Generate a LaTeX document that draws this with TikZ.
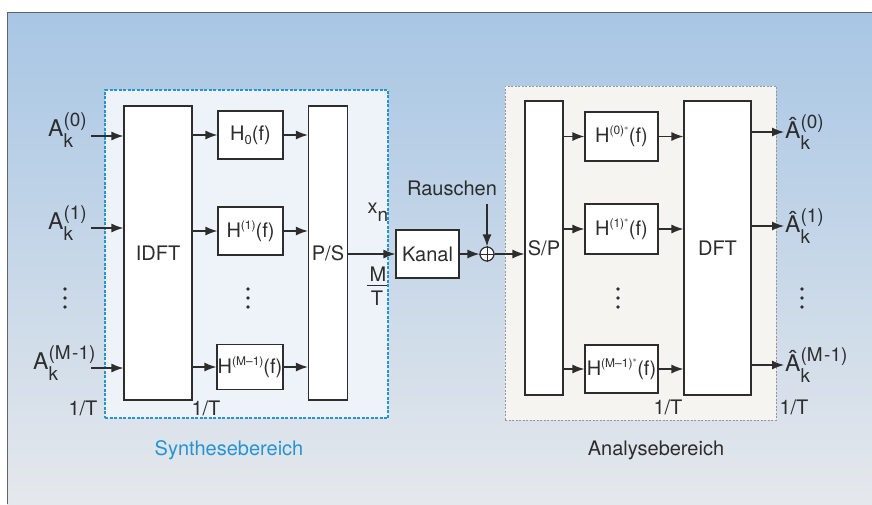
\documentclass[tikz,border=0pt]{standalone}
\usepackage{amsmath}
\usepackage{fontspec}
\setmainfont{TeX Gyre Heros}
\usetikzlibrary{arrows.meta,positioning,shapes,calc}
\definecolor{skyblue}{RGB}{168,198,228}
\definecolor{midblue}{RGB}{200,218,236}
\definecolor{paleblue}{RGB}{229,232,236}
\definecolor{synthblue}{RGB}{38,148,208}
\definecolor{synthfill}{RGB}{237,243,248}
\definecolor{anafill}{RGB}{245,244,240}
\definecolor{anagray}{RGB}{150,150,150}
\definecolor{framegray}{RGB}{100,100,100}
\definecolor{darkline}{RGB}{45,45,45}

% letter with stacked upper and lower index
\newcommand{\stackidx}[3]{{\fontsize{23pt}{26pt}\selectfont #1}{\fontsize{19pt}{21pt}\selectfont\raisebox{-11pt}{\begin{tabular}[b]{@{}l@{}}#2\\#3\end{tabular}}}}
\newcommand{\hsup}[1]{\raisebox{8pt}{\fontsize{12pt}{12pt}\selectfont #1}}
\newcommand{\hsub}[1]{\raisebox{-4pt}{\fontsize{13pt}{13pt}\selectfont #1}}

\begin{document}
\begin{tikzpicture}[x=1pt,y=-1pt,
        font=\fontsize{20pt}{24pt}\selectfont, text=darkline,
        block/.style={rectangle, draw=darkline, fill=white, line width=1.2pt, inner sep=0pt},
        region/.style={rectangle, inner sep=0pt},
        sig/.style={-{Latex[length=12pt,width=9pt]}, line width=1.3pt, darkline},
        vdots/.pic={\foreach \k in {-1,0,1} \fill[darkline] (0,\k*9) circle (1.9pt);}
    ]
    \useasboundingbox (0,0) rectangle (872,504);
    \fill[white] (0,0) rectangle (872,504);
    \shade[top color=skyblue, middle color=midblue, bottom color=paleblue] (7,12) rectangle (872,504);
    \draw[framegray, line width=1pt] (7,504) -- (7,12) -- (872,12);

    % regions
    \node[region, draw=synthblue, fill=synthfill, line width=1.3pt, dash pattern=on 3pt off 1.5pt,
        minimum width=283, minimum height=328] (synth) at (246.5,254) {};
    \node[region, draw=anagray, fill=anafill, line width=1pt, dash pattern=on 2pt off 1.5pt,
        minimum width=271, minimum height=334] (ana) at (640.5,253) {};

    % synthesis side
    \node[block, minimum width=68, minimum height=294] (idft) at (158,253) {IDFT};
    \node[block, minimum width=65, minimum height=48] (h0) at (250.5,135) {H\hsub{0}(f)};
    \node[block, minimum width=65, minimum height=48] (h1) at (250.5,231) {H\hsup{(1)}(f)};
    \node[block, minimum width=66, minimum height=45] (hm) at (250,367) {H\hsup{(M--1)}(f)};
    \node[block, minimum width=39, minimum height=294] (ps) at (328,253) {P/S};

    \node[anchor=base west, inner sep=0pt] (a0) at (48,136) {\stackidx{A}{(0)}{k}};
    \node[anchor=base west, inner sep=0pt] (a1) at (48,229) {\stackidx{A}{(1)}{k}};
    \node[anchor=base west, inner sep=0pt] (am) at (33,369) {\stackidx{A}{(M\kern1.5pt-1)}{k}};
    \coordinate (in0) at (91,136);
    \coordinate (in1) at (91,228);
    \coordinate (inm) at (91,368);

    \pic at (65,298) {vdots};
    \pic at (248,298) {vdots};
    \node (t0) at (83,408) {1/T};
    \node (t1) at (206,408) {1/T};

    \draw[sig] (in0) -- (idft.west |- in0);
    \draw[sig] (in1) -- (idft.west |- in1);
    \draw[sig] (inm) -- (idft.west |- inm);
    \draw[sig] (idft.east |- h0) -- (h0);
    \draw[sig] (idft.east |- h1) -- (h1);
    \draw[sig] (idft.east |- hm) -- (hm);
    \draw[sig] (h0) -- (ps.west |- h0);
    \draw[sig] (h1) -- (ps.west |- h1);
    \draw[sig] (hm) -- (ps.west |- hm);

    % channel
    \node[block, minimum width=63, minimum height=48] (kanal) at (427.5,254) {Kanal};
    \node[circle, draw=darkline, line width=1.2pt, fill=white, minimum size=14, inner sep=0pt] (sum) at (487,254) {};
    \draw[darkline, line width=1pt] (sum.north) -- (sum.south) (sum.west) -- (sum.east);
    \node (rausch) at (452,188) {Rauschen};
    \coordinate (nz) at (487,204);
    \node (xn) at (378,212) {x\raisebox{-8pt}{\fontsize{19pt}{20pt}\selectfont n}};
    \node[inner sep=0pt] (mnum) at (378,274) {M};
    \node[inner sep=0pt] (tden) at (377,298) {T};
    \draw[darkline, line width=1pt] (367,285) -- (387,285);

    \draw[sig] (ps.east |- kanal) -- (kanal);
    \draw[sig] (kanal) -- (sum);
    \draw[sig] (nz) -- (sum);

    % analysis side
    \node[block, minimum width=38, minimum height=294] (sp) at (544,248) {S/P};
    \node[block, minimum width=73, minimum height=49] (hs0) at (621.5,136.5) {H\hsup{(0)$^*$}(f)};
    \node[block, minimum width=73, minimum height=50] (hs1) at (621.5,229) {H\hsup{(1)$^*$}(f)};
    \node[block, minimum width=73, minimum height=48] (hsm) at (621.5,369) {H\hsup{(M--1)$^*$}(f)};
    \node[block, minimum width=67, minimum height=294] (dft) at (717.5,248) {DFT};

    \coordinate (out0) at (784,132);
    \coordinate (out1) at (784,226);
    \coordinate (outm) at (784,365);
    \node[anchor=base west, inner sep=0pt] (b0) at (785,138) {\stackidx{\^A}{(0)}{k}};
    \node[anchor=base west, inner sep=0pt] (b1) at (785,232) {\stackidx{\^A}{(1)}{k}};
    \node[anchor=base west, inner sep=0pt] (bm) at (785,371) {\stackidx{\^A}{(M\kern1.5pt-1)}{k}};

    \pic at (618,298) {vdots};
    \pic at (802,298) {vdots};
    \node (t2) at (668,407) {1/T};
    \node (t3) at (794,407) {1/T};

    \draw[sig] (sum) -- (sp.west |- sum);
    \draw[sig] (sp.east |- hs0) -- (hs0);
    \draw[sig] (sp.east |- hs1) -- (hs1);
    \draw[sig] (sp.east |- hsm) -- (hsm);
    \draw[sig] (hs0) -- (dft.west |- hs0);
    \draw[sig] (hs1) -- (dft.west |- hs1);
    \draw[sig] (hsm) -- (dft.west |- hsm);
    \draw[sig] (dft.east |- out0) -- (out0);
    \draw[sig] (dft.east |- out1) -- (out1);
    \draw[sig] (dft.east |- outm) -- (outm);

    % captions
    \node[text=synthblue] (synthlbl) at (229,450) {Synthesebereich};
    \node (analbl) at (656,450) {Analysebereich};
\end{tikzpicture}
\end{document}
